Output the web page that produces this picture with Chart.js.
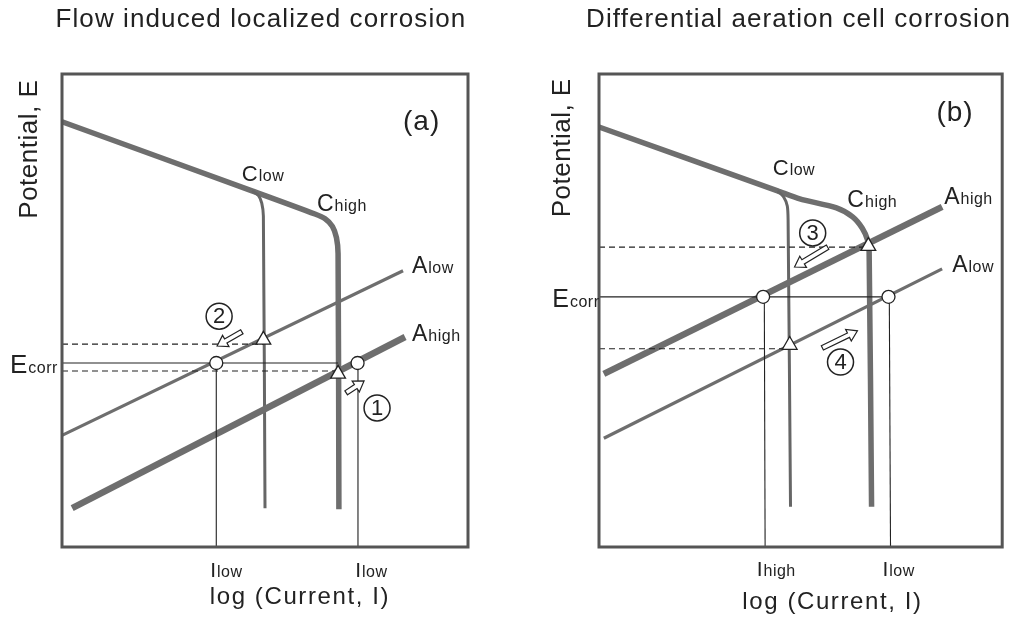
<!DOCTYPE html>
<html><head><meta charset="utf-8">
<script src="https://cdn.jsdelivr.net/npm/chart.js@4.4.1/dist/chart.umd.min.js"></script>
<style>
html,body{margin:0;padding:0;background:#fff;}
#wrap{position:relative;width:1012px;height:624px;overflow:hidden;background:#fff;}
canvas{position:absolute;top:0;}
#ca{left:0;} #cb{left:506px;}
</style></head><body>
<div id="wrap"><canvas id="ca" width="506" height="624"></canvas><canvas id="cb" width="506" height="624"></canvas></div>
<script>
// ---------------- DATA (arbitrary units: x = log current 0-100, y = potential 0-100) ----------------
// Panel (a) Flow induced localized corrosion
const titleA = "Flow induced localized corrosion";
const a_cathodeHigh = [[0,89.9],[46.8,75.3],[62.3,70.4],[64.8,69.4],[66.6,67.8],[67.6,65.4],[68.0,62.0],[68.2,8.0]];
const a_cathodeLow  = [[46.8,75.3],[48.4,74.3],[49.2,72.7],[49.6,70.0],[50.0,8.2]];
const a_anodeLow    = [[0,23.6],[84.0,58.4]];
const a_anodeHigh   = [[2.5,8.2],[84.5,44.4]];
const a_ecorrLine   = [[0,38.9],[68.0,38.9]];
const a_dashedUpper = [[0,42.9],[49.6,42.9]];
const a_dashedLower = [[0,37.2],[68.0,37.2]];
const a_dropLeft    = [[38.0,38.9],[38.0,0]];
const a_dropRight   = [[72.9,38.9],[72.9,0]];
const a_circles     = [[38.0,38.9],[72.8,38.9]];
const a_triangles   = [[49.6,43.8],[68.0,36.6]];
const a_arrows      = [[[44.3,45.5],[38.2,42.5]], [[70.0,32.6],[74.4,35.1]]];
const a_stepNums    = ["2","1"];
const a_stepPos     = [[38.7,48.8],[77.6,29.4]];

// Panel (b) Differential aeration cell corrosion
const titleB = "Differential aeration cell corrosion";
const b_cathodeHigh = [[0,88.8],[44.3,75.3],[49.8,73.6],[58.9,71.7],[62.9,69.8],[65.3,67.4],[66.6,64.9],[67.0,62.4],[67.6,8.5]];
const b_cathodeLow  = [[44.3,75.3],[45.8,74.0],[46.7,72.1],[46.9,69.1],[47.5,8.5]];
const b_anodeHigh   = [[1.2,36.6],[85.1,71.9]];
const b_anodeLow    = [[1.2,23.0],[85.1,58.8]];
const b_ecorrLine   = [[0,52.9],[71.8,52.9]];
const b_dashedUpper = [[0,63.4],[67.0,63.4]];
const b_dashedLower = [[0,41.9],[47.3,41.9]];
const b_dropLeft    = [[41.0,52.9],[41.2,0]];
const b_dropRight   = [[72.0,52.9],[72.3,0]];
const b_circles     = [[40.7,52.9],[71.8,52.9]];
const b_triangles   = [[66.8,63.6],[47.3,42.7]];
const b_arrows      = [[[56.7,63.4],[48.5,59.2]], [[55.4,42.1],[64.1,45.7]]];
const b_stepNums    = ["3","4"];
const b_stepPos     = [[53.0,66.4],[59.9,39.1]];

const axisY = "Potential, E";
const axisX = "log (Current, I)";

// ---------------- RENDERING ----------------
const FONT = '"Liberation Sans", Arial, Helvetica, sans-serif';
const INK = '#222';
const GREY = '#6e6e6e';

const pts = a => a.map(p => ({x:p[0], y:p[1]}));
function lineDs(data, width, color, order, dash, tension){
  return {data: pts(data), showLine:true, borderColor:color, borderWidth:width, pointRadius:0,
          borderDash: dash || [], borderJoinStyle:'round', borderCapStyle:'butt', order:order,
          tension:tension||0, clip:false};
}

function drawText(ctx, txt, x, y, size, spacing, align){
  ctx.font = size + 'px ' + FONT;
  ctx.letterSpacing = (spacing||0) + 'px';
  ctx.textAlign = align || 'left';
  ctx.fillText(txt, x, y);
}
function drawSub(ctx, main, sub, x, y, mSize, sSize){
  ctx.textAlign='left';
  ctx.font = mSize + 'px ' + FONT; ctx.letterSpacing='0px';
  const w = ctx.measureText(main).width;
  ctx.fillText(main, x, y);
  ctx.font = sSize + 'px ' + FONT; ctx.letterSpacing='0.5px';
  ctx.fillText(sub, x + w + 1, y);
}
function hollowArrow(ctx, x0,y0,x1,y1){
  const dx=x1-x0, dy=y1-y0, L=Math.hypot(dx,dy), ux=dx/L, uy=dy/L, nx=-uy, ny=ux;
  const hl=10, hw=6.5, sw=2.4;
  const bx=x1-ux*hl, by=y1-uy*hl;
  const poly=[[x0+nx*sw,y0+ny*sw],[bx+nx*sw,by+ny*sw],[bx+nx*hw,by+ny*hw],[x1,y1],[bx-nx*hw,by-ny*hw],[bx-nx*sw,by-ny*sw],[x0-nx*sw,y0-ny*sw]];
  ctx.beginPath(); ctx.moveTo(poly[0][0],poly[0][1]);
  for(let i=1;i<poly.length;i++) ctx.lineTo(poly[i][0],poly[i][1]);
  ctx.closePath(); ctx.fillStyle='#fff'; ctx.fill();
  ctx.lineWidth=1.2; ctx.strokeStyle=INK; ctx.stroke();
}

const annotPlugin = {
  id:'annot',
  afterDatasetsDraw(chart, args, o){
    const ctx=chart.ctx, xs=chart.scales.x, ys=chart.scales.y, a=chart.chartArea;
    const X=v=>xs.getPixelForValue(v), Y=v=>ys.getPixelForValue(v);
    ctx.save();
    // frame
    ctx.strokeStyle='#555'; ctx.lineWidth=3;
    ctx.strokeRect(a.left, a.top, a.right-a.left, a.bottom-a.top);
    // arrows
    o.arrows.forEach(ar=>hollowArrow(ctx, X(ar[0][0]),Y(ar[0][1]),X(ar[1][0]),Y(ar[1][1])));
    // circled step numbers
    o.stepPos.forEach((p,i)=>{
      ctx.beginPath(); ctx.arc(X(p[0]),Y(p[1]),13,0,Math.PI*2);
      ctx.fillStyle='#fff'; ctx.fill();
      ctx.lineWidth=1.5; ctx.strokeStyle=INK; ctx.stroke();
      ctx.fillStyle=INK; ctx.textBaseline='middle';
      drawText(ctx, o.stepNums[i], X(p[0]), Y(p[1])+1, 22, 0, 'center');
      ctx.textBaseline='alphabetic';
    });
    ctx.fillStyle=INK; ctx.textBaseline='alphabetic';
    // subscript labels
    o.labels.forEach(l=>drawSub(ctx, l[0], l[1], X(l[2]), Y(l[3]), l[4], l[5]));
    // panel letter
    drawText(ctx, o.panel[0], X(o.panel[1]), Y(o.panel[2]), 28, 1, 'left');
    // title
    drawText(ctx, o.title[0], X(o.title[1]), Y(o.title[2]), 26, 1.1, 'center');
    // x axis title
    drawText(ctx, axisX, X(o.xTitle[0]), Y(o.xTitle[1]), 24, 1.6, 'center');
    // y axis title (rotated)
    ctx.save();
    ctx.translate(X(o.yTitle[0]), Y(o.yTitle[1]));
    ctx.rotate(-Math.PI/2);
    drawText(ctx, axisY, 0, 0, 26, 0.5, 'center');
    ctx.restore();
    ctx.restore();
  }
};

function makeChart(id, D, pad, ann){
  const datasets = [
    {data:pts(D.circles), showLine:false, pointStyle:'circle', pointRadius:6.5, pointBackgroundColor:'#fff', pointBorderColor:INK, pointBorderWidth:1.3, order:0, clip:false},
    {data:pts(D.triangles), showLine:false, pointStyle:'triangle', pointRadius:8.5, pointBackgroundColor:'#fff', pointBorderColor:INK, pointBorderWidth:1.3, order:0, clip:false},
    lineDs(D.ecorrLine, 1.2, INK, 2),
    lineDs(D.dashedUpper, 1.1, INK, 2, [6,4]),
    lineDs(D.dashedLower, 1.1, INK, 2, [6,4]),
    lineDs(D.dropLeft, 1.1, INK, 2),
    lineDs(D.dropRight, 1.1, INK, 2),
    lineDs(D.anodeLow, 3.2, GREY, 3),
    lineDs(D.anodeHigh, 6.5, GREY, 3),
    lineDs(D.cathodeLow, 3, '#666', 4, null, 0.25),
    lineDs(D.cathodeHigh, 5.5, GREY, 4, null, 0.25)
  ];
  return new Chart(document.getElementById(id), {
    type:'scatter',
    data:{datasets},
    options:{
      responsive:false, animation:false, devicePixelRatio:1,
      layout:{padding:pad},
      scales:{x:{type:'linear',min:0,max:100,display:false}, y:{type:'linear',min:0,max:100,display:false}},
      plugins:{legend:{display:false}, tooltip:{enabled:false}, annot:ann}
    },
    plugins:[annotPlugin]
  });
}

makeChart('ca', {
  cathodeHigh:a_cathodeHigh, cathodeLow:a_cathodeLow, anodeLow:a_anodeLow, anodeHigh:a_anodeHigh,
  ecorrLine:a_ecorrLine, dashedUpper:a_dashedUpper, dashedLower:a_dashedLower,
  dropLeft:a_dropLeft, dropRight:a_dropRight, circles:a_circles, triangles:a_triangles
}, {left:62, top:74, right:38, bottom:77}, {
  arrows:a_arrows, stepNums:a_stepNums, stepPos:a_stepPos,
  labels:[['C','low',44.3,77.4,22,16],['C','high',62.8,71.0,23,16],['A','low',86.2,57.9,23,16],['A','high',86.2,43.6,23,16],
          ['E','corr',-12.8,36.8,26,16],['I','low',36.5,-6.3,21,16],['I','low',72.2,-6.3,21,16]],
  panel:['(a)',84.0,88.2], title:[titleA,49.0,109.9], xTitle:[58.6,-12.1], yTitle:[-6.2,84.1]
});

makeChart('cb', {
  cathodeHigh:b_cathodeHigh, cathodeLow:b_cathodeLow, anodeLow:b_anodeLow, anodeHigh:b_anodeHigh,
  ecorrLine:b_ecorrLine, dashedUpper:b_dashedUpper, dashedLower:b_dashedLower,
  dropLeft:b_dropLeft, dropRight:b_dropRight, circles:b_circles, triangles:b_triangles
}, {left:93, top:74, right:9, bottom:77}, {
  arrows:b_arrows, stepNums:b_stepNums, stepPos:b_stepPos,
  labels:[['C','low',43.1,78.6,22,16],['C','high',61.6,71.9,23,16],['A','high',85.6,72.5,23,16],['A','low',87.6,58.1,23,16],
          ['E','corr',-11.6,50.7,25,16],['I','high',39.1,-6.1,21,16],['I','low',70.3,-6.1,21,16]],
  panel:['(b)',83.7,90.1], title:[titleB,49.5,109.9], xTitle:[57.9,-13.1], yTitle:[-7.2,84.4]
});
</script>
</body></html>
